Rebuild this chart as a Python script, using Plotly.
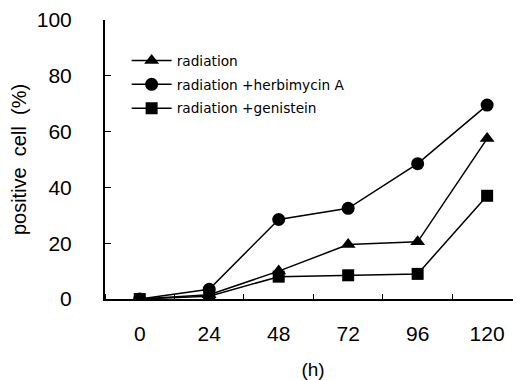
import plotly.graph_objects as go

hours = [0, 24, 48, 72, 96, 120]
radiation = [0, 1.5, 10, 19.5, 20.5, 57.5]
herbimycin = [0, 3.5, 28.5, 32.5, 48.5, 69.5]
genistein = [0, 1, 8, 8.5, 9, 37]
names = ["radiation", "radiation +herbimycin A", "radiation +genistein"]
x_ticks = [0, 24, 48, 72, 96, 120]
y_ticks = [0, 20, 40, 60, 80, 100]

FONT = "Liberation Sans, Arial, sans-serif"
fig = go.Figure()
series = [(radiation, "triangle-up", 13), (herbimycin, "circle", 13), (genistein, "square", 12)]
for i, ((vals, sym, sz), nm) in enumerate(zip(series, names)):
    fig.add_trace(go.Scatter(
        x=hours, y=vals, name=nm, mode="lines+markers",
        line=dict(color="black", width=1.5),
        marker=dict(symbol=sym, size=sz, color="black"),
        legendgroup=f"g{i}",
    ))

# page body has an 8px margin; compensate so the plot area sits where the reference has it
fig.update_layout(
    width=513, height=372,
    margin=dict(l=97, r=0, t=7, b=81),
    paper_bgcolor="white", plot_bgcolor="white",
    font=dict(family=FONT, color="black", size=21),
    showlegend=True,
    legend=dict(x=0.052, y=0.91, xanchor="left", yanchor="top",
                font=dict(size=13.7, family="DejaVu Sans, sans-serif"), tracegroupgap=3,
                itemwidth=40,
                bgcolor="rgba(0,0,0,0)"),
    xaxis=dict(range=[-12, 131.7], tickvals=x_ticks, ticktext=[str(v) for v in x_ticks],
               showline=True, linecolor="black", linewidth=2, showgrid=False, zeroline=False,
               ticks="", ticklabelstandoff=15, tickfont=dict(size=21), ticklabeloverflow="allow",
               minor=dict(tick0=12, dtick=24, ticks="inside", ticklen=5, tickcolor="black", showgrid=False),
               title=dict(text="(h)", font=dict(size=19), standoff=18)),
    yaxis=dict(range=[0, 100], tickvals=y_ticks, showline=True, linecolor="black", linewidth=2,
               showgrid=False, zeroline=False, ticks="inside", ticklen=6, tickcolor="black",
               ticklabelstandoff=27, tickfont=dict(size=21), ticklabeloverflow="allow",
               title=dict(text="positive\u00a0 cell\u00a0 (%)", font=dict(size=20), standoff=11)),
)
fig.write_html("out.html")
